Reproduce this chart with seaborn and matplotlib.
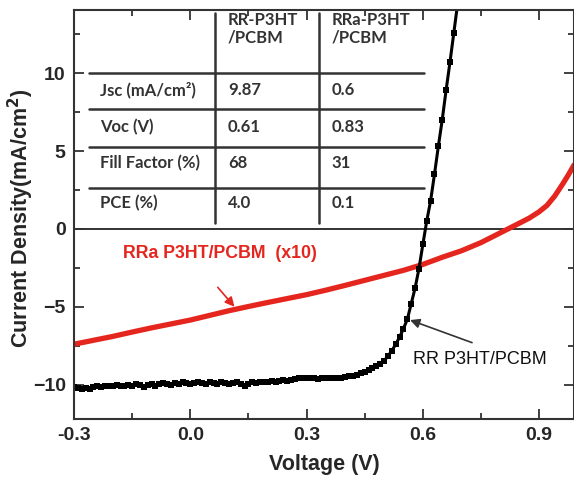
import numpy as np
import pandas as pd
import matplotlib
matplotlib.use("Agg")
import matplotlib.pyplot as plt
import seaborn as sns

# ---------------- data ----------------
rr_voltage = np.round(np.arange(-0.30, 0.695, 0.01), 2)
rr_current = [
    -10.15, -10.2, -10.25, -10.2, -10.25, -10.15, -10.1, -10.15, -10.1, -10.05,
    -10.1, -10.0, -10.05, -10.1, -10.0, -10.05, -9.95, -10.0, -10.15, -10.0,
    -9.95, -10.05, -9.95, -9.9, -9.95, -10.0, -9.9, -9.95, -9.85, -9.9,
    -9.95, -9.9, -9.85, -9.9, -9.95, -9.85, -9.9, -9.95, -9.85, -9.9,
    -9.95, -9.9, -9.85, -9.95, -10.05, -9.95, -9.85, -9.9, -9.8, -9.85,
    -9.8, -9.75, -9.8, -9.75, -9.7, -9.75, -9.7, -9.65, -9.6, -9.6,
    -9.6, -9.6, -9.6, -9.65, -9.6, -9.6, -9.55, -9.6, -9.6, -9.58,
    -9.52, -9.47, -9.42, -9.35, -9.27, -9.18, -9.06, -8.93, -8.8, -8.68,
    -8.47, -8.15, -7.83, -7.4, -6.95, -6.4, -5.8, -4.8, -3.8, -2.55,
    -1.0, 0.5, 1.8, 3.5, 5.3, 7.0, 8.9, 10.7, 12.6, 14.5,
]
rra_voltage = [-0.30, -0.25, -0.20, -0.15, -0.10, -0.05, 0.00, 0.05, 0.10, 0.15,
               0.20, 0.25, 0.30, 0.35, 0.40, 0.45, 0.50, 0.55, 0.60, 0.65,
               0.70, 0.75, 0.80, 0.85, 0.875, 0.90, 0.92, 0.94, 0.96, 0.975, 0.99]
rra_current = [-7.4, -7.15, -6.9, -6.62, -6.35, -6.1, -5.85, -5.55, -5.25, -4.98,
               -4.72, -4.47, -4.22, -3.93, -3.62, -3.3, -2.98, -2.66, -2.28, -1.82,
               -1.4, -0.88, -0.25, 0.38, 0.7, 1.1, 1.5, 2.1, 2.85, 3.45, 4.1]

table_cols = ["RR-P3HT\n/PCBM", "RRa-P3HT\n/PCBM"]
table_rows = ["Jsc (mA/cm\u00b2)", "Voc (V)", "Fill Factor (%)", "PCE (%)"]
table_rr = ["9.87", "0.61", "68", "4.0"]
table_rra = ["0.6", "0.83", "31", "0.1"]

x_ticks = [-0.3, 0.0, 0.3, 0.6, 0.9]
x_ticklabels = ["-0.3", "0.0", "0.3", "0.6", "0.9"]
y_ticks = [-10, -5, 0, 5, 10]

df_rr = pd.DataFrame({"V": rr_voltage, "J": rr_current})
df_rra = pd.DataFrame({"V": rra_voltage, "J": rra_current})

# ---------------- style ----------------
sns.set_style("ticks")
plt.rcParams["font.family"] = ["Liberation Sans", "DejaVu Sans"]

fig = plt.figure(figsize=(5.74, 4.79), dpi=100)
ax = fig.add_axes([74 / 574, 1 - 419 / 479, 500 / 574, 409 / 479])

red = "#e4261e"

sns.lineplot(data=df_rra, x="V", y="J", ax=ax, color=red, lw=3.8, sort=True)
sns.lineplot(data=df_rr, x="V", y="J", ax=ax, color="black", lw=2.2,
             marker="s", markersize=4.4, markeredgewidth=0, sort=True)

ax.set_xlim(-0.3, 0.99)
ax.set_ylim(-12.2, 14.05)
ax.axhline(0, color="#333333", lw=1.4, zorder=1)

ax.set_xticks(x_ticks)
ax.set_xticklabels(x_ticklabels)
ax.set_yticks(y_ticks)
ax.set_xticks([-0.15, 0.15, 0.45, 0.75], minor=True)
ax.set_yticks([-7.5, -2.5, 2.5, 7.5, 12.5], minor=True)
ax.tick_params(which="both", direction="in", top=True, right=True,
               color="#333333", width=1.3)
ax.tick_params(which="major", length=7, labelsize=14, pad=6)
ax.tick_params(which="minor", length=4)
for lab in ax.get_xticklabels() + ax.get_yticklabels():
    lab.set_fontweight("bold")
for s in ax.spines.values():
    s.set_color("#333333")
    s.set_linewidth(1.5)

ax.set_xlabel("Voltage (V)", fontsize=15.5, fontweight="bold", labelpad=7)
ax.set_ylabel("Current Density(mA/cm$^\\mathbf{2}$)", fontsize=15.5,
              fontweight="bold", va="center")
ax.yaxis.set_label_coords((21 - 74) / 500, 0.49)

# ---------------- table ----------------
tab_color = "#333333"
for yv in [10.0, 7.7, 5.25, 2.6]:
    ax.plot([-0.262, 0.604], [yv, yv], color=tab_color, lw=1.8, zorder=2)
for xv in [0.063, 0.331]:
    ax.plot([xv, xv], [0.4, 13.85], color=tab_color, lw=1.8, zorder=2)

tfont = dict(family=["Lato", "DejaVu Sans"], fontweight="bold",
             fontsize=12, color=tab_color)
ax.text(0.097, 12.85, table_cols[0], va="center", ha="left",
        linespacing=1.15, **tfont)
ax.text(0.364, 12.85, table_cols[1], va="center", ha="left",
        linespacing=1.15, **tfont)
row_y = [8.9, 6.54, 4.23, 1.67]
for yy, lab, a, b in zip(row_y, table_rows, table_rr, table_rra):
    ax.text(-0.232, yy, lab, va="center", ha="left", **tfont)
    ax.text(0.097, yy, a, va="center", ha="left", **tfont)
    ax.text(0.364, yy, b, va="center", ha="left", **tfont)

# ---------------- annotations ----------------
ax.text(0.076, -1.55, "RRa P3HT/PCBM  (x10)", color=red, fontsize=12.8,
        fontweight="bold", ha="center", va="center")
ax.annotate("", xy=(0.114, -5.0), xytext=(0.071, -3.75),
            arrowprops=dict(arrowstyle="-|>", color=red, lw=1.2,
                            mutation_scale=14, shrinkA=0, shrinkB=0))
ax.text(0.748, -8.4, "RR P3HT/PCBM", color="#111111", fontsize=13,
        ha="center", va="center")
ax.annotate("", xy=(0.567, -5.85), xytext=(0.727, -7.3),
            arrowprops=dict(arrowstyle="-|>", color="#333333", lw=1.2,
                            mutation_scale=14, shrinkA=0, shrinkB=0))

fig.savefig("out.png", dpi=100)
